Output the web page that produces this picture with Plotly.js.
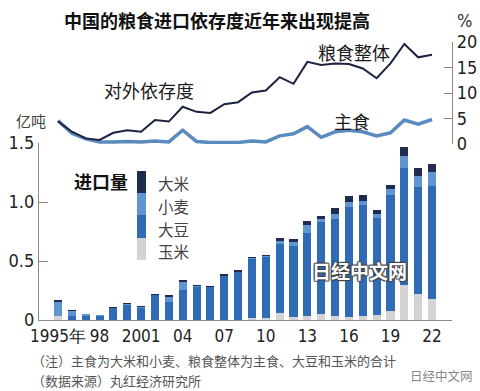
<!DOCTYPE html>
<html>
<head>
<meta charset="utf-8">
<script src="https://cdn.plot.ly/plotly-3.0.1.min.js"></script>
<style>html,body{margin:0;padding:0;background:#fff;}#chart{width:480px;height:391px;}</style>
</head>
<body>
<div id="chart"></div>
<script>
// ---- data ----
const years = [1995,1996,1997,1998,1999,2000,2001,2002,2003,2004,2005,2006,2007,2008,2009,2010,2011,2012,2013,2014,2015,2016,2017,2018,2019,2020,2021,2022];
// import volume, 亿吨
const corn  = [0.030,0.003,0,0,0,0,0,0,0,0,0,0,0,0,0.014,0.015,0.056,0.028,0.034,0.050,0.034,0.028,0.037,0.045,0.073,0.294,0.218,0.175];
const soy   = [0.006,0.028,0.034,0.034,0.100,0.130,0.105,0.210,0.155,0.254,0.278,0.277,0.373,0.407,0.505,0.520,0.585,0.600,0.700,0.780,0.825,0.927,0.940,0.820,0.986,0.990,0.912,0.963];
const wheat = [0.120,0.042,0.014,0.006,0.004,0.004,0.004,0.004,0.042,0.070,0.008,0.003,0.002,0.002,0.005,0.005,0.031,0.037,0.068,0.023,0.040,0.045,0.034,0.034,0.048,0.107,0.093,0.119];
const rice  = [0.014,0.012,0.006,0.006,0.006,0.006,0.006,0.008,0.011,0.014,0.014,0.011,0.011,0.011,0.011,0.011,0.023,0.023,0.034,0.028,0.048,0.054,0.045,0.031,0.037,0.071,0.062,0.062];
// import dependency, %
const depTotal  = [4.4,2.4,1.1,0.8,2.2,2.7,2.4,4.7,4.4,7.3,6.3,6.1,7.8,8.2,10.1,10.5,13.1,11.8,16.1,15.5,15.8,15.7,14.8,12.9,15.8,19.6,17.0,17.5];
const depStaple = [4.6,2.1,1.0,0.4,0.4,0.5,0.4,0.6,0.4,2.7,0.5,0.3,0.3,0.3,0.6,0.4,1.6,2.0,3.4,1.3,2.4,2.7,2.4,1.6,2.2,4.7,3.9,4.8];
const xTickVals = [1995,1998,2001,2004,2007,2010,2013,2016,2019,2022];
const xTickText = ['1995年','98','2001','04','07','10','13','16','19','22'];
const yTickVals = [0,0.5,1,1.5];
const yTickText = ['0','0.5','1.0','1.5'];
const y2TickVals = [0,5,10,15,20];
const legendNames = ['大米','小麦','大豆','玉米'];

// ---- styles ----
const C_RICE='#1f2b50', C_WHEAT='#5e95d2', C_SOY='#2f6cb5', C_CORN='#d3d3d3';
const C_DARKLINE='#1c2340', C_LIGHTLINE='#5a8bc0';
const NUM_FONT = '"Liberation Sans Narrow","DejaVu Sans Condensed",Arial,sans-serif';
const CJK = '"Noto Sans CJK SC","Noto Sans",sans-serif';

const L=39, R=452, T=42, B=320, W=480, H=391;
const px = v => (v-L)/(R-L);
const py = v => (B-v)/(B-T);
const bottomTop = py(143);

const bar = (y,name,color) => ({type:'bar',x:years,y:y,name:name,marker:{color:color,line:{width:0}},xaxis:'x',yaxis:'y',hoverinfo:'skip'});
const traces = [
  bar(corn,'玉米',C_CORN),
  bar(soy,'大豆',C_SOY),
  bar(wheat,'小麦',C_WHEAT),
  bar(rice,'大米',C_RICE),
  {type:'scatter',mode:'lines',x:years,y:depStaple,xaxis:'x',yaxis:'y2',line:{color:C_LIGHTLINE,width:3.5},hoverinfo:'skip'},
  {type:'scatter',mode:'lines',x:years,y:depTotal,xaxis:'x',yaxis:'y2',line:{color:C_DARKLINE,width:2},hoverinfo:'skip'}
];

// legend colour strip
const legColors=[C_RICE,C_WHEAT,C_SOY,C_CORN];
const segEdges=[171,193,215,238,260];
const shapes = legColors.map((c,i)=>({type:'rect',xref:'paper',yref:'paper',x0:px(137),x1:px(146),y0:py(segEdges[i+1]),y1:py(segEdges[i]),fillcolor:c,line:{width:0}}));

const ann = (text,x,y,size,opts={}) => Object.assign({text:text,xref:'paper',yref:'paper',x:px(x),y:py(y),showarrow:false,xanchor:'left',yanchor:'middle',font:{family:CJK,size:size,color:'#1a1a1a'}},opts);
const legY=[183,206,229,251];
const annotations = [
  ann('中国的粮食进口依存度近年来出现提高',62,20,18,{font:{family:CJK,size:18,color:'#111',weight:700}}),
  ann('粮食整体',316,52,18),
  ann('对外依存度',102,90,18),
  ann('主食',332,121,18),
  ann('%',455,20,18,{font:{family:NUM_FONT,size:18,color:'#333'}}),
  ann('亿吨',14,120,15,{font:{family:CJK,size:15,color:'#444'}}),
  ann('进口量',72,181,18,{font:{family:CJK,size:18,color:'#111',weight:700}}),
  ...legendNames.map((n,i)=>ann(n,156,legY[i],15.5,{font:{family:CJK,size:15.5,color:'#444'}})),
  ann('日经中文网',310,270,19,{font:{family:CJK,size:19,color:'#ffffff',weight:700,shadow:'1px 1px 1px #444, -1px -1px 1px #444, 1px -1px 1px #444, -1px 1px 1px #444'}}),
  ann('（注）主食为大米和小麦、粮食整体为主食、大豆和玉米的合计',30,360,13,{font:{family:CJK,size:13,color:'#555'}}),
  ann('（数据来源）丸红经济研究所',30,380,13,{font:{family:CJK,size:13,color:'#555'}}),
  ann('日经中文网',408,375,12.5,{font:{family:CJK,size:12.5,color:'#888'}})
];

const layout = {
  width:W,height:H,
  margin:{l:L,r:W-R,t:T,b:H-B,pad:0},
  paper_bgcolor:'#fff',plot_bgcolor:'rgba(0,0,0,0)',
  showlegend:false,
  barmode:'stack',bargap:0.42,
  font:{family:NUM_FONT,size:18,color:'#222'},
  xaxis:{anchor:'y',range:[1993.63,2023.44],tickvals:xTickVals,ticktext:xTickText,tickangle:0,showline:true,linecolor:'#8a8a8a',linewidth:1.2,ticks:'',showgrid:false,zeroline:false,tickfont:{family:NUM_FONT,size:17,color:'#222'}},
  yaxis:{domain:[0,bottomTop],range:[0,1.5],tickvals:yTickVals,ticktext:yTickText,showline:true,linecolor:'#8a8a8a',linewidth:1.2,ticks:'inside',ticklen:9,tickcolor:'#8a8a8a',showgrid:false,zeroline:false,tickfont:{family:NUM_FONT,size:18,color:'#222'}},
  yaxis2:{domain:[py(144),py(42)],range:[0,20],anchor:'x',side:'right',tickvals:y2TickVals,showline:true,linecolor:'#8a8a8a',linewidth:1.2,ticks:'inside',ticklen:8,tickcolor:'#8a8a8a',showgrid:false,zeroline:false,tickfont:{family:NUM_FONT,size:18,color:'#222'}},
  shapes:shapes,
  annotations:annotations
};
Plotly.newPlot('chart',traces,layout,{staticPlot:true,displayModeBar:false});
</script>
</body>
</html>
